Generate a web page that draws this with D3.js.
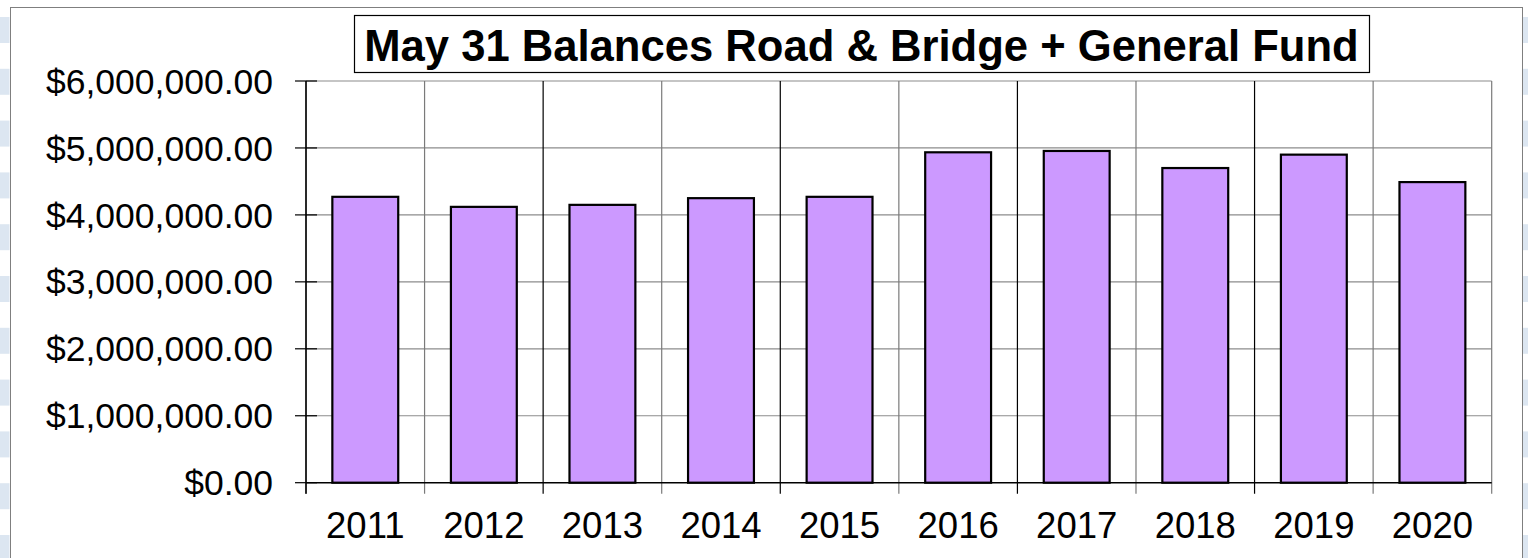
<!DOCTYPE html>
<html>
<head>
<meta charset="utf-8">
<script src="https://cdn.jsdelivr.net/npm/d3@7"></script>
<style>
  html, body { margin: 0; padding: 0; background: #fff; }
  svg { display: block; font-family: "Liberation Sans", Arial, sans-serif; }
</style>
</head>
<body>
<div id="chart"></div>
<script>
// data
const YEARS = ["2011", "2012", "2013", "2014", "2015", "2016", "2017", "2018", "2019", "2020"];
const BALANCES = [4270000, 4120000, 4150000, 4250000, 4270000, 4935000, 4955000, 4700000, 4900000, 4490000];
const Y_TICKS = [0, 1000000, 2000000, 3000000, 4000000, 5000000, 6000000];
const TITLE = "May 31 Balances Road & Bridge + General Fund";

const W = 1528, H = 558;
const plot = { left: 306, right: 1491.7, top: 81, bottom: 482.7 };

const svg = d3.select("#chart").append("svg")
  .attr("width", W)
  .attr("height", H)
  .attr("viewBox", [0, 0, W, H]);

// ---- page background stripes (left / right edges) ----
const stripeY = d3.range(17, H, 51.8);
[[0, 9.5], [1523, 5]].forEach(([sx, sw]) => {
  svg.append("g").selectAll("rect")
    .data(stripeY)
    .join("rect")
    .attr("x", sx)
    .attr("y", d => d)
    .attr("width", sw)
    .attr("height", 26)
    .attr("fill", "#dce6f1");
});

// chart area frame
svg.append("rect")
  .attr("x", 10.5).attr("y", 7.5)
  .attr("width", 1512).attr("height", H)
  .attr("fill", "#fff")
  .attr("stroke", "#7f7f7f")
  .attr("stroke-width", 1);

// ---- scales ----
const x = d3.scaleBand()
  .domain(YEARS)
  .range([plot.left, plot.right])
  .padding(0);

const y = d3.scaleLinear()
  .domain([0, 6000000])
  .range([plot.bottom, plot.top]);

const money = v => "$" + d3.format(",.2f")(v);

// ---- horizontal gridlines ----
svg.append("g").selectAll("line")
  .data(Y_TICKS)
  .join("line")
  .attr("x1", plot.left).attr("x2", plot.right)
  .attr("y1", d => y(d)).attr("y2", d => y(d))
  .attr("stroke", d => d === 0 ? "none" : "#8c8c8c")
  .attr("stroke-width", 1.2);

// ---- vertical gridlines at category boundaries ----
const bounds = YEARS.map(d => x(d)).concat([plot.right]);
svg.append("g").selectAll("line")
  .data(bounds)
  .join("line")
  .attr("x1", d => d).attr("x2", d => d)
  .attr("y1", plot.top).attr("y2", plot.bottom + 11)
  .attr("stroke", (d, i) => (i % 2 === 0 && i < bounds.length - 1) ? "#000" : "#7a7a7a")
  .attr("stroke-width", 1.2);

// ---- bars ----
const barW = x.bandwidth() / 1.8;
svg.append("g").selectAll("rect")
  .data(YEARS.map((yr, i) => ({ yr, v: BALANCES[i] })))
  .join("rect")
  .attr("x", d => x(d.yr) + x.bandwidth() / 2 - barW / 2)
  .attr("y", d => y(d.v))
  .attr("width", barW)
  .attr("height", d => y(0) - y(d.v))
  .attr("fill", "#cc99ff")
  .attr("stroke", "#000")
  .attr("stroke-width", 2.2);

// ---- axes ----
// y axis line + crossing ticks
svg.append("line")
  .attr("x1", plot.left).attr("x2", plot.left)
  .attr("y1", plot.top).attr("y2", plot.bottom + 11)
  .attr("stroke", "#000").attr("stroke-width", 1.2);

svg.append("g").selectAll("line")
  .data(Y_TICKS)
  .join("line")
  .attr("x1", plot.left - 11).attr("x2", plot.left + 11)
  .attr("y1", d => y(d)).attr("y2", d => y(d))
  .attr("stroke", "#000").attr("stroke-width", 1.2);

svg.append("g").selectAll("text")
  .data(Y_TICKS)
  .join("text")
  .attr("x", 273)
  .attr("y", d => y(d) + 12.6)
  .attr("text-anchor", "end")
  .attr("font-size", 35.5)
  .attr("fill", "#000")
  .text(money);

// x axis line
svg.append("line")
  .attr("x1", plot.left).attr("x2", plot.right)
  .attr("y1", plot.bottom).attr("y2", plot.bottom)
  .attr("stroke", "#000").attr("stroke-width", 1.4);

svg.append("g").selectAll("text")
  .data(YEARS)
  .join("text")
  .attr("x", d => x(d) + x.bandwidth() / 2)
  .attr("y", 537.5)
  .attr("text-anchor", "middle")
  .attr("font-size", 36.5)
  .attr("fill", "#000")
  .text(d => d);

// ---- title ----
svg.append("rect")
  .attr("x", 354.5).attr("y", 15.5)
  .attr("width", 1015).attr("height", 57)
  .attr("fill", "#fff")
  .attr("stroke", "#000")
  .attr("stroke-width", 1.2);

svg.append("text")
  .attr("x", 861.5)
  .attr("y", 61)
  .attr("text-anchor", "middle")
  .attr("font-size", 43.6)
  .attr("font-weight", "bold")
  .attr("fill", "#000")
  .text(TITLE);
</script>
</body>
</html>
